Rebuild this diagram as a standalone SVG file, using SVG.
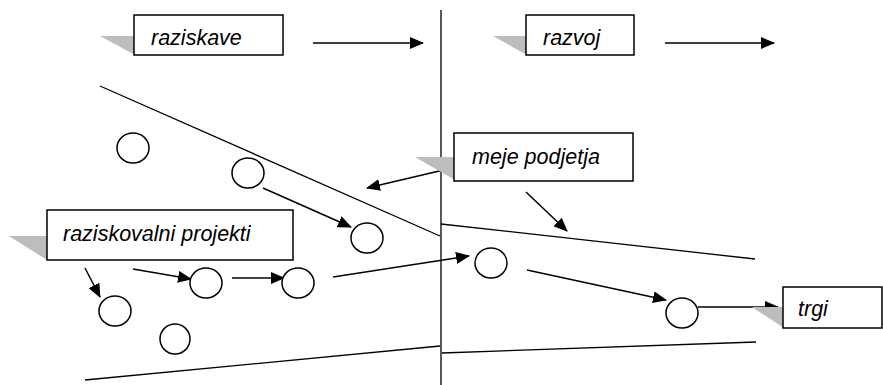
<svg xmlns="http://www.w3.org/2000/svg" width="883" height="385" viewBox="0 0 883 385">
<style>
.box{fill:#fff;stroke:#000;stroke-width:1.5}
.sh{fill:#bdbdbd}
.t{font-family:"Liberation Sans",Arial,sans-serif;font-style:italic;font-size:21.5px;fill:#000}
.ln{stroke:#000;stroke-width:1.3;fill:none}
.ar{stroke:#000;stroke-width:1.5;fill:none;marker-end:url(#ah)}
.c{fill:#fff;stroke:#000;stroke-width:1.5}
</style>
<defs>
<marker id="ah" markerUnits="userSpaceOnUse" markerWidth="14" markerHeight="12" viewBox="0 0 14 12" refX="13" refY="6" orient="auto">
<path d="M0,0 L14,6 L0,12 z" fill="#000"/>
</marker>
</defs>
<g id="connectors">
<line class="ln" x1="441" y1="10" x2="441" y2="385"/>
<line class="ln" x1="100" y1="86" x2="440" y2="236"/>
<line class="ln" x1="441" y1="224" x2="755" y2="259"/>
<line class="ln" x1="85" y1="380" x2="440" y2="346"/>
<line class="ln" x1="442" y1="353" x2="756" y2="342"/>
<line class="ar" x1="313" y1="43" x2="423" y2="43"/>
<line class="ar" x1="665" y1="43" x2="774" y2="43"/>
<line class="ar" x1="452" y1="168" x2="367" y2="188"/>
<line class="ar" x1="526" y1="192" x2="567" y2="231"/>
<line class="ar" x1="263" y1="188" x2="351" y2="227"/>
<line class="ar" x1="85" y1="268" x2="100" y2="297"/>
<line class="ar" x1="133" y1="269" x2="191" y2="279"/>
<line class="ar" x1="232" y1="278" x2="284" y2="278"/>
<line class="ar" x1="333" y1="277" x2="469" y2="256"/>
<line class="ar" x1="527" y1="270" x2="666" y2="300"/>
<line class="ar" x1="698" y1="307" x2="778" y2="307"/>
</g>
<g id="raziskave">
<polygon class="sh" points="100,36 135,36 135,55"/>
<rect class="box" x="134" y="15" width="149" height="40"/>
<text class="t" x="151" y="45">raziskave</text>
</g>
<g id="razvoj">
<polygon class="sh" points="493,36 527,36 527,55"/>
<rect class="box" x="526" y="15" width="108" height="40"/>
<text class="t" x="543" y="45">razvoj</text>
</g>
<g id="meje-podjetja">
<polygon class="sh" points="415,157 455,157 455,180"/>
<rect class="box" x="454" y="133" width="179" height="48"/>
<text class="t" x="472" y="164">meje podjetja</text>
</g>
<g id="raziskovalni-projekti">
<polygon class="sh" points="9,236 47,236 47,260"/>
<rect class="box" x="47" y="210" width="246" height="50"/>
<text class="t" x="63" y="241">raziskovalni projekti</text>
</g>
<g id="trgi">
<polygon class="sh" points="752,307 784,307 784,328"/>
<rect class="box" x="783" y="287" width="99" height="41"/>
<text class="t" x="798" y="316">trgi</text>
</g>
<g id="c1"><ellipse class="c" cx="133" cy="148" rx="16" ry="15"/></g>
<g id="c2"><ellipse class="c" cx="248" cy="173" rx="16" ry="15"/></g>
<g id="c3"><ellipse class="c" cx="367" cy="238" rx="16" ry="15"/></g>
<g id="c4"><ellipse class="c" cx="206" cy="283" rx="16" ry="15"/></g>
<g id="c5"><ellipse class="c" cx="298" cy="283" rx="16" ry="15"/></g>
<g id="c6"><ellipse class="c" cx="115" cy="311" rx="16" ry="15"/></g>
<g id="c7"><ellipse class="c" cx="175" cy="339" rx="15" ry="15"/></g>
<g id="c8"><ellipse class="c" cx="491" cy="263" rx="16" ry="15"/></g>
<g id="c9"><ellipse class="c" cx="682" cy="313" rx="16" ry="15"/></g>
</svg>
